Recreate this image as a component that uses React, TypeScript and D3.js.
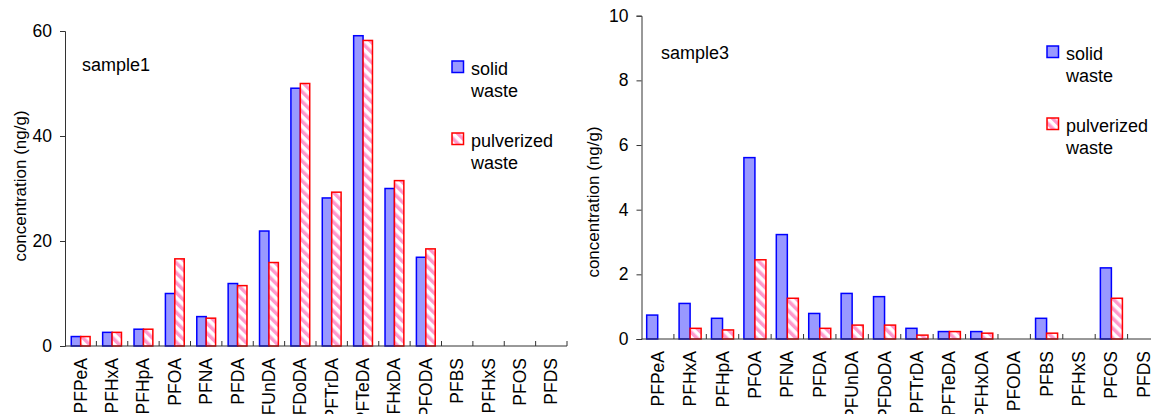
import React, { useEffect, useRef } from "react";
import * as d3 from "d3";

const compounds = ["PFPeA", "PFHxA", "PFHpA", "PFOA", "PFNA", "PFDA", "PFUnDA", "PFDoDA", "PFTrDA", "PFTeDA", "PFHxDA", "PFODA", "PFBS", "PFHxS", "PFOS", "PFDS"];
const seriesNames = ["solid waste", "pulverized waste"];

const sample1Solid = [1.8, 2.6, 3.2, 10.0, 5.6, 11.9, 21.9, 49.1, 28.2, 59.1, 30.0, 16.9, 0, 0, 0, 0];
const sample1Pulverized = [1.8, 2.6, 3.2, 16.6, 5.3, 11.5, 15.9, 50.0, 29.3, 58.2, 31.5, 18.5, 0, 0, 0, 0];
const sample3Solid = [0.74, 1.1, 0.64, 5.61, 3.23, 0.79, 1.41, 1.31, 0.33, 0.23, 0.23, 0, 0.64, 0, 2.2, 0];
const sample3Pulverized = [0, 0.33, 0.28, 2.45, 1.26, 0.33, 0.43, 0.43, 0.12, 0.23, 0.18, 0, 0.18, 0, 1.26, 0];

const sample1Ticks = [0, 20, 40, 60];
const sample3Ticks = [0, 2, 4, 6, 8, 10];

const FONT = "'Liberation Sans', Arial, sans-serif";

export default function App() {
  const ref = useRef<SVGSVGElement>(null);

  useEffect(() => {
    const svg = d3.select(ref.current);
    svg.selectAll("*").remove();

    // stripe pattern for the pulverized bars
    const pat = svg.append("defs").append("pattern")
      .attr("id", "stripes")
      .attr("patternUnits", "userSpaceOnUse")
      .attr("width", 7)
      .attr("height", 7)
      .attr("patternTransform", "rotate(-45)");
    pat.append("rect").attr("width", 7).attr("height", 7).attr("fill", "white");
    pat.append("rect").attr("width", 3.5).attr("height", 7).attr("fill", "#ff99cc");

    const panels = [
      { title: "sample1", solid: sample1Solid, pulv: sample1Pulverized, ticks: sample1Ticks, max: 60,
        left: 65, right: 567, top: 31, bottom: 346, barFrac: 0.3, titleX: 82, titleY: 71,
        labelX: 20, labelY: 186, legX: 452, legY: 61 },
      { title: "sample3", solid: sample3Solid, pulv: sample3Pulverized, ticks: sample3Ticks, max: 10,
        left: 641.5, right: 1160, top: 15.7, bottom: 339, barFrac: 0.34, titleX: 661, titleY: 59,
        labelX: 593, labelY: 202, legX: 1047, legY: 46 },
    ];

    panels.forEach(p => {
      const g = svg.append("g");
      const x = d3.scaleBand<string>().domain(compounds).range([p.left, p.right]);
      const y = d3.scaleLinear().domain([0, p.max]).range([p.bottom, p.top]);
      const bw = x.bandwidth() * p.barFrac;

      // bars
      compounds.forEach((c, i) => {
        const cx = (x(c) as number) + x.bandwidth() / 2;
        if (p.solid[i] > 0) {
          g.append("rect")
            .attr("x", cx - bw).attr("y", y(p.solid[i]))
            .attr("width", bw).attr("height", y(0) - y(p.solid[i]))
            .attr("fill", "#9999ff").attr("stroke", "#0000ff").attr("stroke-width", 1.5);
        }
        if (p.pulv[i] > 0) {
          g.append("rect")
            .attr("x", cx).attr("y", y(p.pulv[i]))
            .attr("width", bw).attr("height", y(0) - y(p.pulv[i]))
            .attr("fill", "url(#stripes)").attr("stroke", "#ff0000").attr("stroke-width", 1.5);
        }
      });

      // y axis
      const yAxis = g.append("g")
        .attr("transform", `translate(${p.left},0)`)
        .call(d3.axisLeft(y).tickValues(p.ticks).tickSize(5).tickPadding(8));
      yAxis.select(".domain").attr("stroke", "#333");
      yAxis.selectAll(".tick line").attr("stroke", "#333");
      yAxis.selectAll("text").attr("font-family", FONT).attr("font-size", 17.5).attr("fill", "#000");

      // x axis: ticks between categories, pointing up
      g.append("line")
        .attr("x1", p.left).attr("x2", p.right)
        .attr("y1", p.bottom).attr("y2", p.bottom)
        .attr("stroke", "#333");
      compounds.forEach(c => {
        const tx = (x(c) as number) + x.bandwidth();
        g.append("line")
          .attr("x1", tx).attr("x2", tx)
          .attr("y1", p.bottom).attr("y2", p.bottom - 5)
          .attr("stroke", "#333");
        const lx = (x(c) as number) + x.bandwidth() / 2;
        g.append("text")
          .attr("transform", `translate(${lx + 6},${p.bottom + 12}) rotate(-90)`)
          .attr("text-anchor", "end")
          .attr("font-family", FONT).attr("font-size", 17.5)
          .text(c);
      });

      // y label
      g.append("text")
        .attr("transform", `translate(${p.labelX + 6},${p.labelY}) rotate(-90)`)
        .attr("text-anchor", "middle")
        .attr("font-family", FONT).attr("font-size", 17)
        .text("concentration (ng/g)");

      // title
      g.append("text")
        .attr("x", p.titleX).attr("y", p.titleY)
        .attr("font-family", FONT).attr("font-size", 18)
        .text(p.title);

      // legend
      const leg = g.append("g").attr("transform", `translate(${p.legX},${p.legY})`);
      seriesNames.forEach((name, i) => {
        const oy = i * 72;
        leg.append("rect")
          .attr("x", 0).attr("y", oy).attr("width", 11.5).attr("height", 11.5)
          .attr("fill", i === 0 ? "#9999ff" : "url(#stripes)")
          .attr("stroke", i === 0 ? "#0000ff" : "#ff0000").attr("stroke-width", 1.5);
        const words = name.split(" ");
        words.forEach((w, j) => {
          leg.append("text")
            .attr("x", 19).attr("y", oy + 14 + j * 22)
            .attr("font-family", FONT).attr("font-size", 18)
            .text(w);
        });
      });
    });
  }, []);

  return (
    <svg ref={ref} width={1151} height={414}
      style={{ position: "absolute", left: 0, top: 0, background: "white" }} />
  );
}
